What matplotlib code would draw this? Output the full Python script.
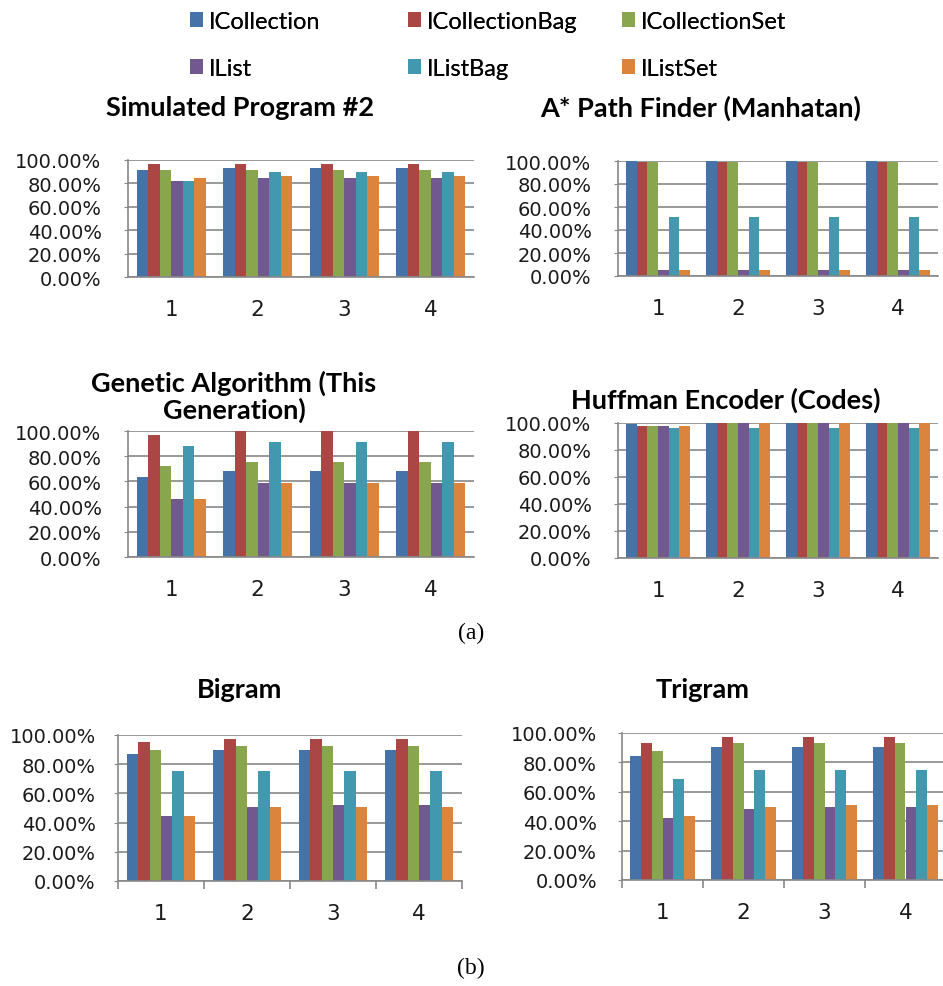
import numpy as np
import matplotlib.pyplot as plt
from matplotlib.patches import Patch
from matplotlib.ticker import PercentFormatter, FixedLocator

# series and runs
series = ["ICollection", "ICollectionBag", "ICollectionSet", "IList", "IListBag", "IListSet"]
colors = ["#4572A7", "#AA4643", "#89A54E", "#71588F", "#4198AF", "#DB843D"]
runs = ["1", "2", "3", "4"]

# hit ratios per series (rows) and run (columns)
simulated = [
    [0.912, 0.929, 0.929, 0.929],
    [0.969, 0.969, 0.969, 0.969],
    [0.912, 0.912, 0.912, 0.912],
    [0.824, 0.844, 0.844, 0.844],
    [0.824, 0.898, 0.898, 0.898],
    [0.844, 0.864, 0.864, 0.864],
]
astar = [
    [1.000, 1.000, 1.000, 1.000],
    [0.994, 0.994, 0.994, 0.994],
    [0.994, 0.994, 0.994, 0.994],
    [0.049, 0.049, 0.049, 0.049],
    [0.513, 0.513, 0.513, 0.513],
    [0.049, 0.049, 0.049, 0.049],
]
genetic = [
    [0.635, 0.685, 0.685, 0.685],
    [0.966, 1.000, 1.000, 1.000],
    [0.720, 0.754, 0.754, 0.754],
    [0.460, 0.590, 0.590, 0.590],
    [0.880, 0.913, 0.913, 0.913],
    [0.460, 0.590, 0.590, 0.590],
]
huffman = [
    [0.995, 1.000, 1.000, 1.000],
    [0.975, 1.000, 1.000, 1.000],
    [0.975, 1.000, 1.000, 1.000],
    [0.975, 1.000, 1.000, 1.000],
    [0.963, 0.963, 0.963, 0.963],
    [0.975, 1.000, 1.000, 1.000],
]
bigram = [
    [0.868, 0.897, 0.897, 0.897],
    [0.954, 0.970, 0.970, 0.970],
    [0.897, 0.925, 0.925, 0.925],
    [0.445, 0.505, 0.518, 0.518],
    [0.753, 0.753, 0.753, 0.753],
    [0.445, 0.505, 0.505, 0.505],
]
trigram = [
    [0.845, 0.902, 0.902, 0.902],
    [0.932, 0.975, 0.975, 0.975],
    [0.875, 0.932, 0.932, 0.932],
    [0.424, 0.483, 0.497, 0.497],
    [0.686, 0.745, 0.745, 0.745],
    [0.437, 0.497, 0.513, 0.513],
]

W, H = 943, 987
GRID = "#888888"


def px_rect(left, top, right, bottom):
    return [left / W, 1 - bottom / H, (right - left) / W, (bottom - top) / H]


def bar_panel(fig, rect, values, title, title_xy, label_gap, cat_ticks=False):
    ax = fig.add_axes(px_rect(*rect))
    x = np.arange(len(runs))
    w = 0.8 / len(series)
    for i, (vals, c) in enumerate(zip(values, colors)):
        ax.bar(x + (i - 2.5) * w, vals, w, color=c, edgecolor="none")
    ax.set_xlim(-0.5, len(runs) - 0.5)
    ax.set_ylim(0, 1.0)
    ax.set_yticks(np.arange(0, 1.01, 0.2))
    ax.yaxis.set_major_formatter(PercentFormatter(1.0, decimals=2))
    ax.set_xticks(x)
    ax.set_xticklabels(runs)
    ax.yaxis.grid(True, color=GRID, linewidth=1.2)
    ax.set_axisbelow(True)
    for s in ("top", "right"):
        ax.spines[s].set_visible(False)
    for s in ("left", "bottom"):
        ax.spines[s].set_color(GRID)
        ax.spines[s].set_linewidth(1.2)
    ax.tick_params(axis="y", length=3, color=GRID, pad=label_gap,
                   labelsize=14, labelcolor="#1a1a1a")
    ax.tick_params(axis="x", length=0, pad=16, labelsize=15.5, labelcolor="#1a1a1a")
    if cat_ticks:
        ax.xaxis.set_minor_locator(FixedLocator(np.arange(-0.5, len(runs), 1.0)))
        ax.tick_params(axis="x", which="minor", length=6, width=1.2, color=GRID)
    fig.text(title_xy[0] / W, 1 - title_xy[1] / H, title, ha="center", va="center",
             fontsize=19.5, fontweight="bold", family="Lato", linespacing=1.1)
    return ax


fig = plt.figure(figsize=(W / 100, H / 100), dpi=100)

bar_panel(fig, (128, 161, 474, 278), simulated, "Simulated Program #2", (240, 108), 16)
bar_panel(fig, (618, 162, 938, 277), astar, "A* Path Finder (Manhatan)", (701, 108), 16)
bar_panel(fig, (128, 432, 474, 558), genetic, "Genetic Algorithm (This\nGeneration)", (234, 397), 16)
bar_panel(fig, (618, 424, 938, 559), huffman, "Huffman Encoder (Codes)", (726, 400), 16)
bar_panel(fig, (118, 736, 462, 882), bigram, "Bigram", (240, 690), 13, cat_ticks=True)
bar_panel(fig, (622, 734, 946, 881), trigram, "Trigram", (703, 690), 15, cat_ticks=True)

# sub-figure captions
fig.text(471 / W, 1 - 633 / H, "(a)", ha="center", va="center", fontsize=17, family="Liberation Serif")
fig.text(471 / W, 1 - 968 / H, "(b)", ha="center", va="center", fontsize=17, family="Liberation Serif")

# legend: one two-row column per group of series
for col, x0 in enumerate((178, 396, 610)):
    idx = [col, col + 3]
    leg = fig.legend([Patch(facecolor=colors[i], edgecolor="none") for i in idx],
                     [series[i] for i in idx], loc="upper left",
                     bbox_to_anchor=(x0 / W, 1 - 0 / H), frameon=False, borderpad=0,
                     prop={"family": "Lato", "size": 17}, handlelength=0.55,
                     handleheight=0.55, handletextpad=0.25, labelspacing=1.1)
    fig.add_artist(leg)

fig.savefig("out.png", dpi=100)
